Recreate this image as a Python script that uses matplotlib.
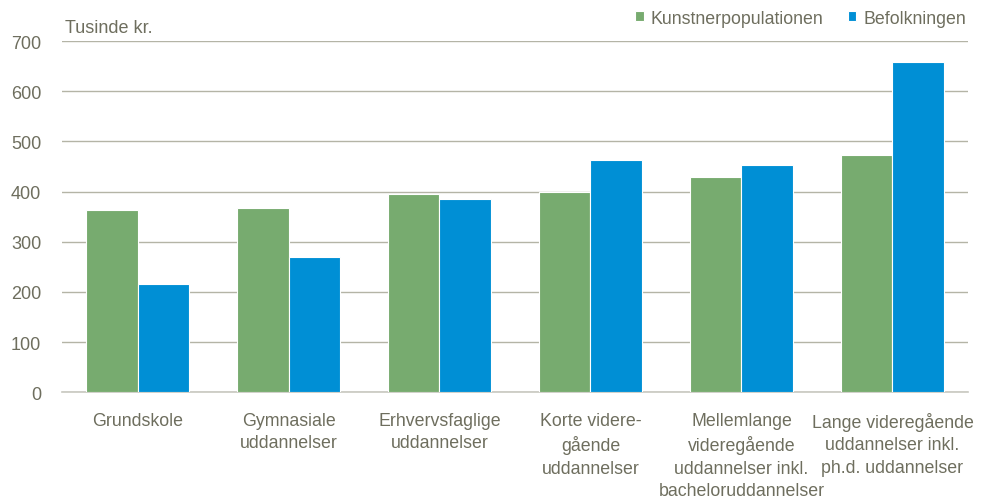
import numpy as np
import matplotlib
import matplotlib.pyplot as plt

matplotlib.use('Agg')

plt.rcParams['font.family'] = ['Liberation Sans', 'DejaVu Sans']

# Data
categories = [
    "Grundskole",
    "Gymnasiale\nuddannelser",
    "Erhvervsfaglige\nuddannelser",
    "Korte videre-\ngående\nuddannelser",
    "Mellemlange\nvideregående\nuddannelser inkl.\nbacheloruddannelser",
    "Lange videregående\nuddannelser inkl.\nph.d. uddannelser",
]
kunstner = [364, 368, 395, 399, 429, 472]
befolkning = [216, 270, 385, 463, 452, 659]
series_names = ["Kunstnerpopulationen", "Befolkningen"]
yticks = [0, 100, 200, 300, 400, 500, 600, 700]

green = '#77AB6F'
blue = '#008FD5'
text_col = '#6E6E5E'
grid_col = '#B4B4A6'

fig = plt.figure(figsize=(9.86, 5.02), dpi=100)
ax = fig.add_axes([0.0629, 0.2165, 0.9188, 0.6998])

x = np.arange(len(categories))
w = 0.34
ax.bar(x - w / 2, kunstner, width=w, color=green, edgecolor='white', linewidth=0.8,
       label=series_names[0], zorder=3)
ax.bar(x + w / 2, befolkning, width=w, color=blue, edgecolor='white', linewidth=0.8,
       label=series_names[1], zorder=3)

ax.set_xlim(-0.5, len(categories) - 0.5)
ax.set_ylim(0, 700)
ax.set_yticks(yticks)
ax.set_yticklabels([str(v) for v in yticks], fontsize=13, color=text_col)
ax.set_xticks(x)
ax.set_xticklabels(categories, fontsize=12.8, color=text_col, linespacing=1.42)
ax.tick_params(axis='both', length=0)
ax.tick_params(axis='y', pad=15)
ax.tick_params(axis='x', pad=14)

ax.grid(axis='y', color=grid_col, linewidth=1.0, zorder=0)
for s in ['top', 'right', 'left']:
    ax.spines[s].set_visible(False)
ax.spines['bottom'].set_color('#C8C8C0')
ax.spines['bottom'].set_linewidth(1.2)

fig.text(0.0659, 0.944, "Tusinde kr.", fontsize=13, color=text_col, va='center', ha='left')

leg = ax.legend(loc='center right', bbox_to_anchor=(1.006, 1.065), ncol=2, frameon=False,
                fontsize=12.8, handlelength=0.5, handleheight=0.5, handletextpad=0.4,
                columnspacing=1.35, borderaxespad=0)
for t in leg.get_texts():
    t.set_color(text_col)

plt.savefig("out.png", dpi=100)
plt.close()
